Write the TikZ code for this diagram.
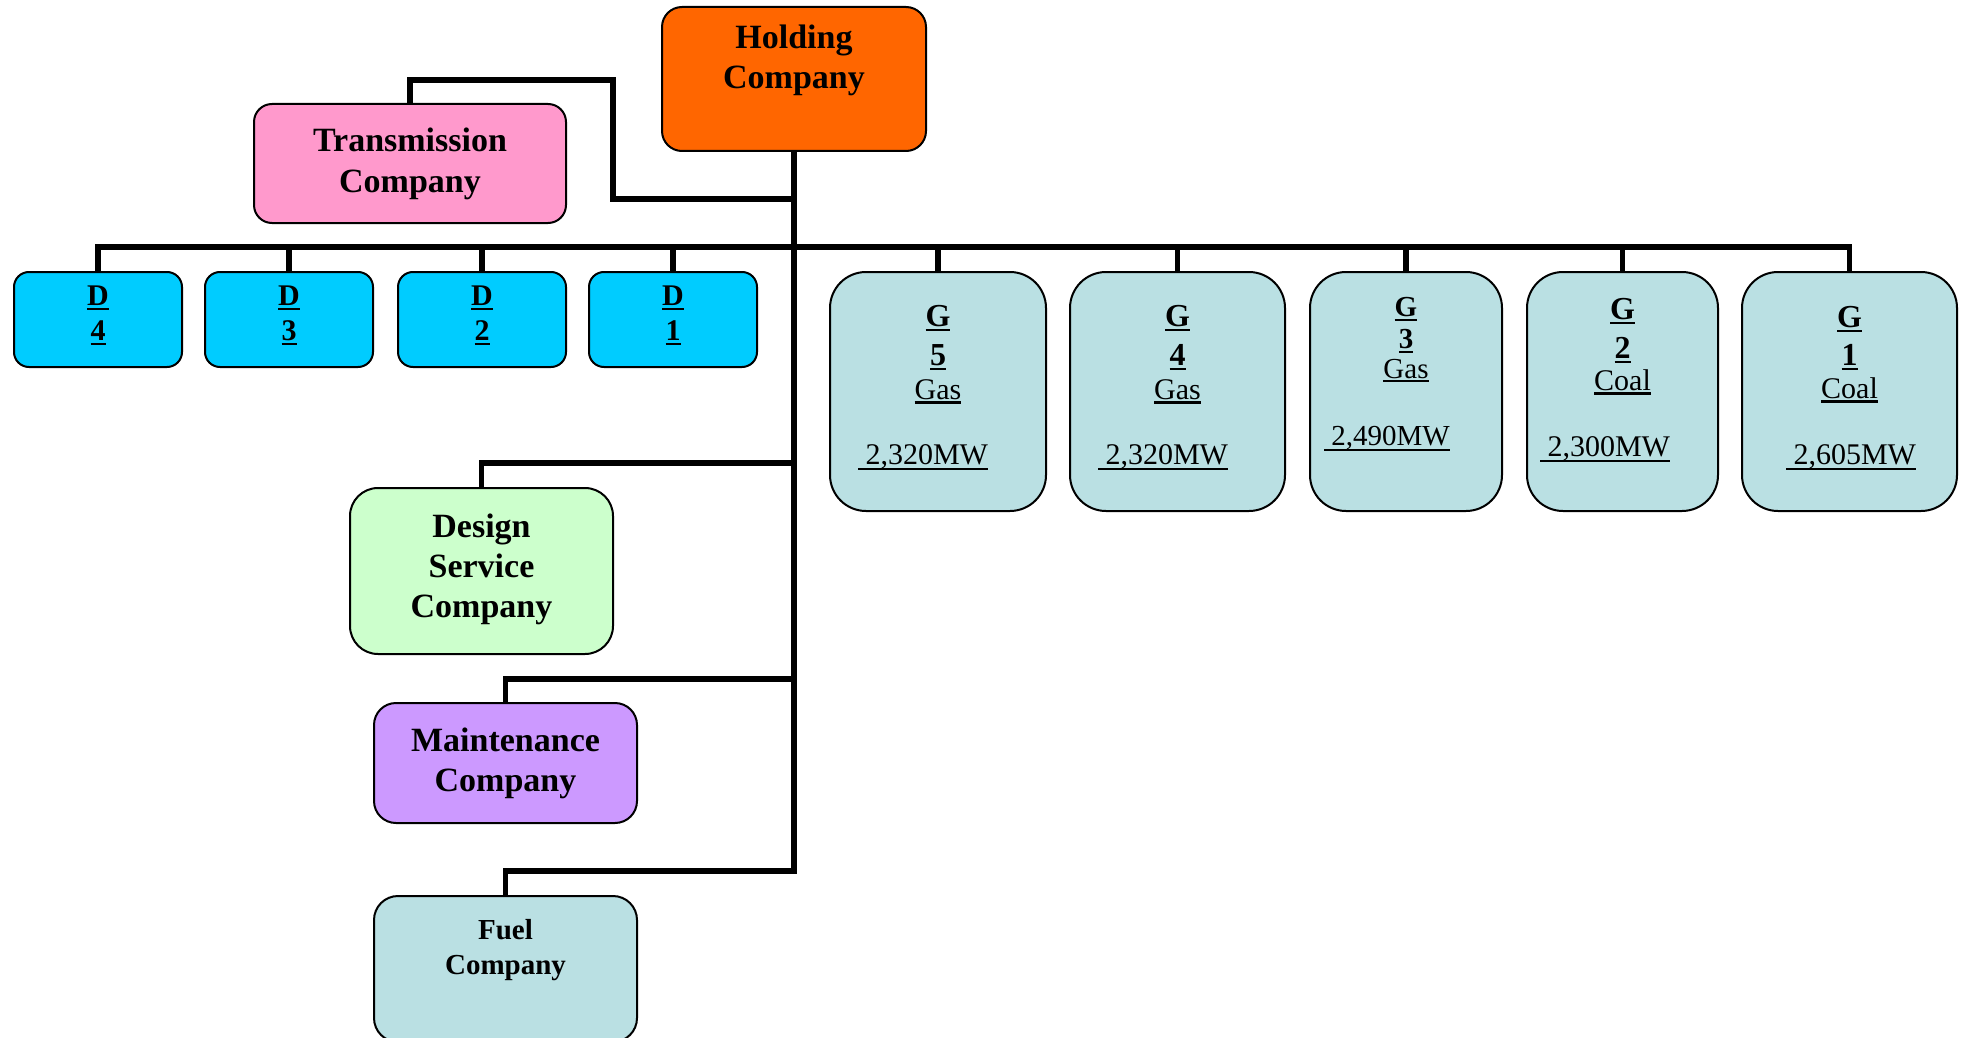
\documentclass[tikz,border=0pt]{standalone}
\usepackage{fontspec}
\setmainfont{Liberation Serif}
\newsavebox{\ulbox}
\newcommand{\uln}[2][0.15em]{\sbox{\ulbox}{#2}\rlap{\rule[-#1]{\wd\ulbox}{0.07em}}\usebox{\ulbox}}
\definecolor{holdc}{HTML}{FF6600}
\definecolor{transc}{HTML}{FF99CC}
\definecolor{dc}{HTML}{00CCFF}
\definecolor{gc}{HTML}{BAE0E3}
\definecolor{desc}{HTML}{CCFFCC}
\definecolor{maintc}{HTML}{CC99FF}
\tikzset{
  orgbox/.style={draw=black, line width=2pt, inner sep=0pt, rounded corners=#1},
  orgbox/.default=18pt,
  conn/.style={line width=5.5pt, line join=miter},
  ttl/.style={font=\bfseries\fontsize{34}{40}\selectfont, inner sep=0pt, anchor=base},
  ftl/.style={font=\bfseries\fontsize{29}{35}\selectfont, inner sep=0pt, anchor=base},
  dtxt/.style={font=\bfseries\fontsize{30}{35}\selectfont, inner sep=0pt, anchor=base},
  gb/.style={font=\bfseries\fontsize{32}{38}\selectfont, inner sep=0pt, anchor=base},
  gr/.style={font=\fontsize{30}{36}\selectfont, inner sep=0pt, anchor=base},
  gbs/.style={font=\bfseries\fontsize{29}{34}\selectfont, inner sep=0pt, anchor=base},
  grs/.style={font=\fontsize{29}{34}\selectfont, inner sep=0pt, anchor=base},
}
\begin{document}
\begin{tikzpicture}[x=1pt,y=-1pt]
\useasboundingbox (0,0) rectangle (1962,1038);
% ---- boxes
\node[orgbox=20pt, fill=holdc, minimum width=264pt, minimum height=144pt] (hold) at (794,79) {};
\node[orgbox=18pt, fill=transc, minimum width=312pt, minimum height=119pt] (trans) at (410,163.5) {};
\foreach \n/\x in {d4/98, d3/289, d2/482, d1/673}
  \node[orgbox=15pt, fill=dc, minimum width=168pt, minimum height=95pt] (\n) at (\x,319.5) {};
\node[orgbox=36pt, fill=gc, minimum width=216pt, minimum height=239pt] (g5) at (938,391.5) {};
\node[orgbox=36pt, fill=gc, minimum width=215pt, minimum height=239pt] (g4) at (1177.5,391.5) {};
\node[orgbox=36pt, fill=gc, minimum width=192pt, minimum height=239pt] (g3) at (1406,391.5) {};
\node[orgbox=36pt, fill=gc, minimum width=191pt, minimum height=239pt] (g2) at (1622.5,391.5) {};
\node[orgbox=36pt, fill=gc, minimum width=215pt, minimum height=239pt] (g1) at (1849.5,391.5) {};
\node[orgbox=28pt, fill=desc, minimum width=263pt, minimum height=166pt] (design) at (481.5,571) {};
\node[orgbox=22pt, fill=maintc, minimum width=263pt, minimum height=120pt] (maint) at (505.5,763) {};
\node[orgbox=24pt, fill=gc, minimum width=263pt, minimum height=146pt] (fuel) at (505.5,969) {};
% ---- junction coordinates
\coordinate (jT) at (793,199);
\coordinate (tA) at (613,199);
\coordinate (tB) at (613,80);
\coordinate (jB) at (793,247);
\coordinate (jDs) at (793,463);
\coordinate (jM) at (793,679);
\coordinate (jF) at (793,871);
% ---- connectors
\draw[conn] (hold.south) -- (hold.south |- jF) -| (fuel.north);
\draw[conn] (hold.south |- jM) -| (maint.north);
\draw[conn] (hold.south |- jDs) -| (design.north);
\draw[conn] (hold.south |- jT) -- (tA) -- (tB) -| (trans.north);
\draw[conn] (d4.north) -- (d4.north |- jB) -- (g1.north |- jB) -- (g1.north);
\foreach \n in {d3,d2,d1,g5,g4,g3,g2}
  \draw[conn] (\n.north |- jB) -- (\n.north);
% ---- texts
\node[ttl] (hold1) at (794,49) {Holding};
\node[ttl] (hold2) at (794,89) {Company};
\node[ttl] (trans1) at (410,152) {Transmission};
\node[ttl] (trans2) at (410,192) {Company};
\node[ttl] (des1) at (481.5,537) {Design};
\node[ttl] (des2) at (481.5,577) {Service};
\node[ttl] (des3) at (481.5,617) {Company};
\node[ttl] (mt1) at (505.5,751) {Maintenance};
\node[ttl] (mt2) at (505.5,791) {Company};
\node[ftl] (fu1) at (505.5,939) {Fuel};
\node[ftl] (fu2) at (505.5,974) {Company};
\foreach \n/\x/\k in {d4/98/4, d3/289/3, d2/482/2, d1/673/1}{
  \node[dtxt] (\n a) at (\x,305) {\uln[0.16em]{D}};
  \node[dtxt] (\n b) at (\x,340) {\uln[0.16em]{\k}};
}
% G5
\node[gb] (g5a) at (938,326) {\uln[0.17em]{G}};
\node[gb] (g5b) at (938,365) {\uln[0.17em]{5}};
\node[gr] (g5c) at (938,399) {\uln{Gas}};
\node[gr] (g5d) at (923,464) {\uln[0.2em]{\ 2,320MW}};
% G4
\node[gb] (g4a) at (1177.5,326) {\uln[0.17em]{G}};
\node[gb] (g4b) at (1177.5,365) {\uln[0.17em]{4}};
\node[gr] (g4c) at (1177.5,399) {\uln{Gas}};
\node[gr] (g4d) at (1163,464) {\uln[0.2em]{\ 2,320MW}};
% G3
\node[gbs] (g3a) at (1406,316) {\uln[0.17em]{G}};
\node[gbs] (g3b) at (1406,348) {\uln[0.17em]{3}};
\node[grs] (g3c) at (1406,378) {\uln{Gas}};
\node[grs] (g3d) at (1387,445) {\uln[0.2em]{\ 2,490MW}};
% G2
\node[gb] (g2a) at (1622.5,319) {\uln[0.17em]{G}};
\node[gb] (g2b) at (1622.5,358) {\uln[0.17em]{2}};
\node[gr] (g2c) at (1622.5,390) {\uln{Coal}};
\node[gr] (g2d) at (1605,456) {\uln[0.2em]{\ 2,300MW}};
% G1
\node[gb] (g1a) at (1849.5,327) {\uln[0.17em]{G}};
\node[gb] (g1b) at (1849.5,365) {\uln[0.17em]{1}};
\node[gr] (g1c) at (1849.5,398) {\uln{Coal}};
\node[gr] (g1d) at (1851,464) {\uln[0.2em]{\ 2,605MW}};
\end{tikzpicture}
\end{document}
